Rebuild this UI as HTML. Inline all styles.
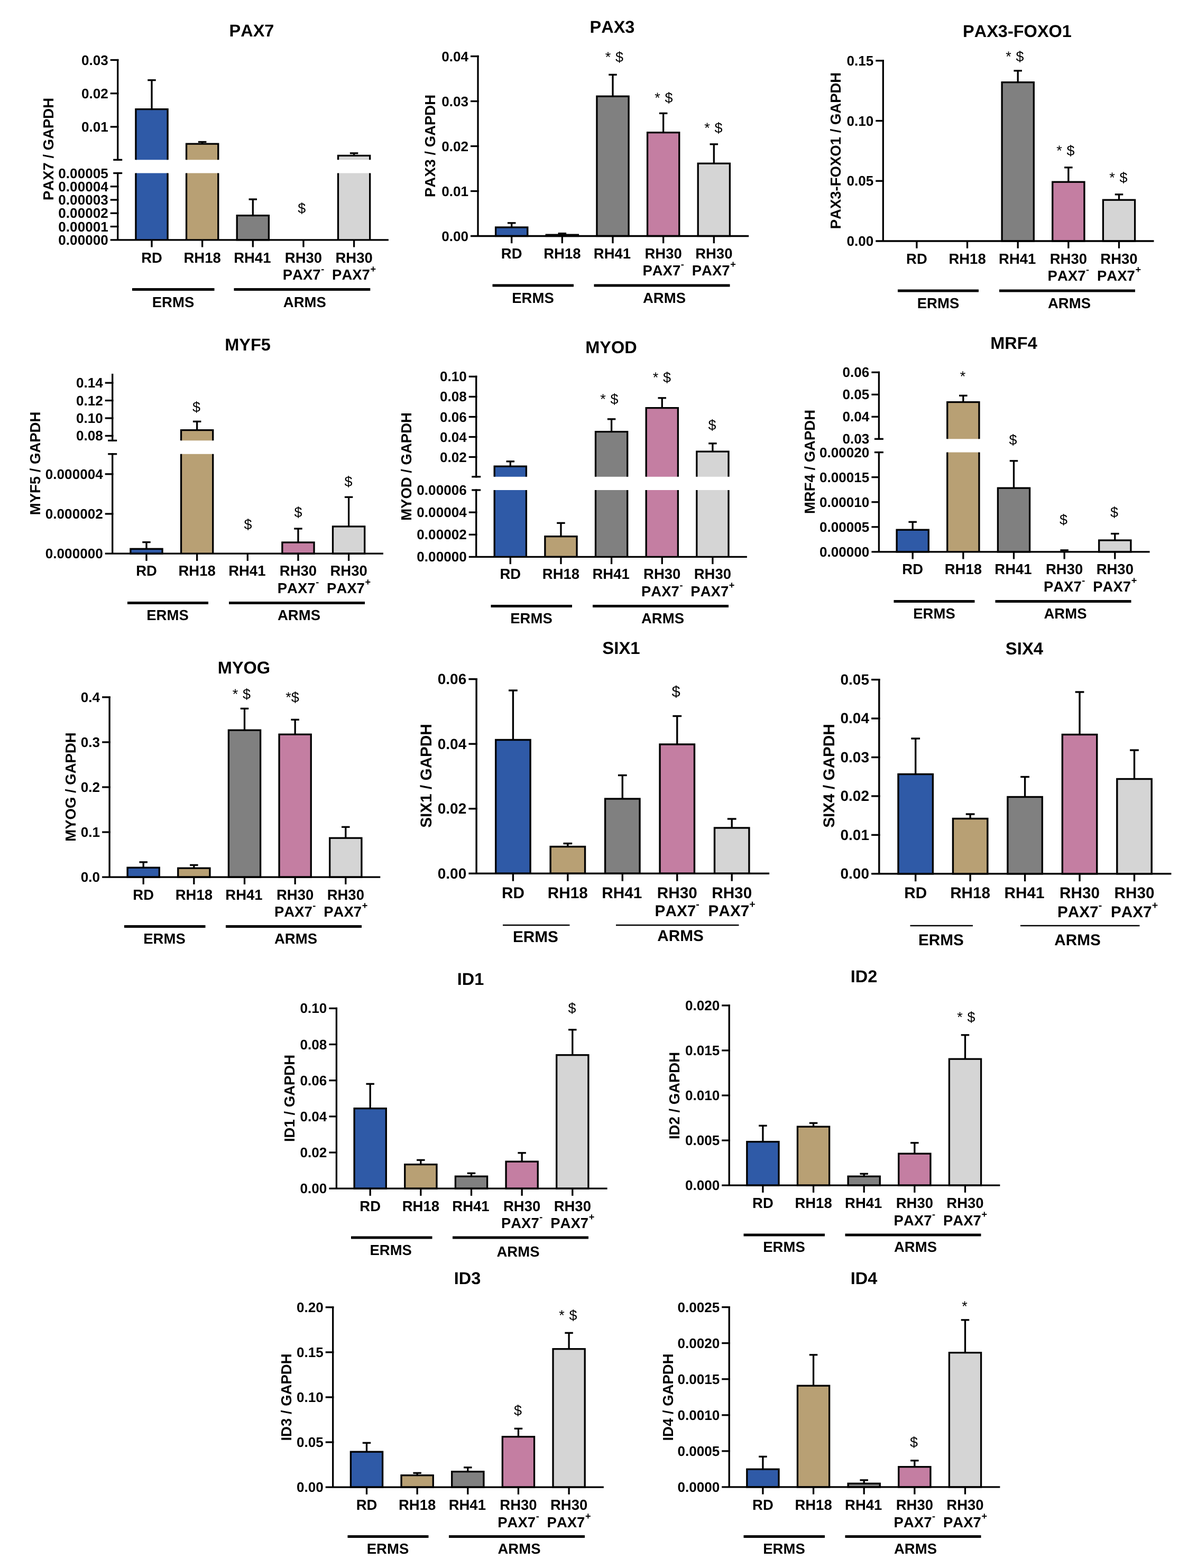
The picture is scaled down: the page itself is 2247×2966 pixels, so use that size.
<!DOCTYPE html>
<html lang="en">
<head>
<meta charset="utf-8">
<title>Gene expression in RMS cell lines</title>
<style>
html,body{margin:0;padding:0;background:#fff;}
body{width:2247px;height:2966px;overflow:hidden;}
svg{display:block;font-family:"Liberation Sans", Arial, Helvetica, sans-serif;fill:#000;font-kerning:none;text-rendering:geometricPrecision;}
svg text{fill:#000;}
</style>
</head>
<body>
<svg width="2247" height="2966" viewBox="0 0 2247 2966">
<rect x="0" y="0" width="2247" height="2966" fill="#fff"/>
<g>
<line x1="287" y1="151.6" x2="287" y2="206.65" stroke="#000" stroke-width="3.3" stroke-linecap="butt"/>
<line x1="279.25" y1="151.6" x2="294.75" y2="151.6" stroke="#000" stroke-width="3.3" stroke-linecap="butt"/>
<rect x="256.9" y="206.65" width="60.2" height="95.65" fill="#2f5aa7"/>
<path d="M256.9 302.3V206.65H317.1V302.3" fill="none" stroke="#000" stroke-width="3.3"/>
<rect x="256.9" y="327.5" width="60.2" height="126.3" fill="#2f5aa7"/>
<line x1="256.9" y1="327.5" x2="256.9" y2="453.8" stroke="#000" stroke-width="3.3" stroke-linecap="butt"/>
<line x1="317.1" y1="327.5" x2="317.1" y2="453.8" stroke="#000" stroke-width="3.3" stroke-linecap="butt"/>
<line x1="382.65" y1="268.5" x2="382.65" y2="272.15" stroke="#000" stroke-width="3.3" stroke-linecap="butt"/>
<line x1="374.9" y1="268.5" x2="390.4" y2="268.5" stroke="#000" stroke-width="3.3" stroke-linecap="butt"/>
<rect x="352.55" y="272.15" width="60.2" height="30.15" fill="#b8a074"/>
<path d="M352.55 302.3V272.15H412.75V302.3" fill="none" stroke="#000" stroke-width="3.3"/>
<rect x="352.55" y="327.5" width="60.2" height="126.3" fill="#b8a074"/>
<line x1="352.55" y1="327.5" x2="352.55" y2="453.8" stroke="#000" stroke-width="3.3" stroke-linecap="butt"/>
<line x1="412.75" y1="327.5" x2="412.75" y2="453.8" stroke="#000" stroke-width="3.3" stroke-linecap="butt"/>
<line x1="478.3" y1="377" x2="478.3" y2="407.65" stroke="#000" stroke-width="3.3" stroke-linecap="butt"/>
<line x1="470.55" y1="377" x2="486.05" y2="377" stroke="#000" stroke-width="3.3" stroke-linecap="butt"/>
<rect x="448.2" y="407.65" width="60.2" height="46.15" fill="#808080" stroke="#000" stroke-width="3.3"/>
<line x1="669.6" y1="289.8" x2="669.6" y2="294.45" stroke="#000" stroke-width="3.3" stroke-linecap="butt"/>
<line x1="661.85" y1="289.8" x2="677.35" y2="289.8" stroke="#000" stroke-width="3.3" stroke-linecap="butt"/>
<rect x="639.5" y="294.45" width="60.2" height="7.85" fill="#d5d5d5"/>
<path d="M639.5 302.3V294.45H699.7V302.3" fill="none" stroke="#000" stroke-width="3.3"/>
<rect x="639.5" y="327.5" width="60.2" height="126.3" fill="#d5d5d5"/>
<line x1="639.5" y1="327.5" x2="639.5" y2="453.8" stroke="#000" stroke-width="3.3" stroke-linecap="butt"/>
<line x1="699.7" y1="327.5" x2="699.7" y2="453.8" stroke="#000" stroke-width="3.3" stroke-linecap="butt"/>
<line x1="208.7" y1="453.8" x2="734.9" y2="453.8" stroke="#000" stroke-width="3.3" stroke-linecap="butt"/>
<line x1="222.7" y1="111.85" x2="222.7" y2="303.95" stroke="#000" stroke-width="3.3" stroke-linecap="butt"/>
<line x1="222.7" y1="325.85" x2="222.7" y2="453.8" stroke="#000" stroke-width="3.3" stroke-linecap="butt"/>
<line x1="214.2" y1="302.3" x2="231.2" y2="302.3" stroke="#000" stroke-width="3.3" stroke-linecap="butt"/>
<line x1="214.2" y1="327.5" x2="231.2" y2="327.5" stroke="#000" stroke-width="3.3" stroke-linecap="butt"/>
<line x1="208.7" y1="113.5" x2="224.35" y2="113.5" stroke="#000" stroke-width="3.3" stroke-linecap="butt"/>
<text x="204.7" y="122.54" font-size="26.1" font-weight="bold" text-anchor="end">0.03</text>
<line x1="208.7" y1="176.7" x2="224.35" y2="176.7" stroke="#000" stroke-width="3.3" stroke-linecap="butt"/>
<text x="204.7" y="185.74" font-size="26.1" font-weight="bold" text-anchor="end">0.02</text>
<line x1="208.7" y1="239.9" x2="224.35" y2="239.9" stroke="#000" stroke-width="3.3" stroke-linecap="butt"/>
<text x="204.7" y="248.94" font-size="26.1" font-weight="bold" text-anchor="end">0.01</text>
<text x="204.7" y="336.54" font-size="26.1" font-weight="bold" text-anchor="end">0.00005</text>
<line x1="208.7" y1="352.76" x2="224.35" y2="352.76" stroke="#000" stroke-width="3.3" stroke-linecap="butt"/>
<text x="204.7" y="361.8" font-size="26.1" font-weight="bold" text-anchor="end">0.00004</text>
<line x1="208.7" y1="378.02" x2="224.35" y2="378.02" stroke="#000" stroke-width="3.3" stroke-linecap="butt"/>
<text x="204.7" y="387.06" font-size="26.1" font-weight="bold" text-anchor="end">0.00003</text>
<line x1="208.7" y1="403.28" x2="224.35" y2="403.28" stroke="#000" stroke-width="3.3" stroke-linecap="butt"/>
<text x="204.7" y="412.32" font-size="26.1" font-weight="bold" text-anchor="end">0.00002</text>
<line x1="208.7" y1="428.54" x2="224.35" y2="428.54" stroke="#000" stroke-width="3.3" stroke-linecap="butt"/>
<text x="204.7" y="437.58" font-size="26.1" font-weight="bold" text-anchor="end">0.00001</text>
<text x="204.7" y="462.84" font-size="26.1" font-weight="bold" text-anchor="end">0.00000</text>
<line x1="287" y1="453.8" x2="287" y2="467.5" stroke="#000" stroke-width="3.3" stroke-linecap="butt"/>
<text x="287" y="497" font-size="27.5" font-weight="bold" text-anchor="middle">RD</text>
<line x1="382.65" y1="453.8" x2="382.65" y2="467.5" stroke="#000" stroke-width="3.3" stroke-linecap="butt"/>
<text x="382.65" y="497" font-size="27.5" font-weight="bold" text-anchor="middle">RH18</text>
<line x1="478.3" y1="453.8" x2="478.3" y2="467.5" stroke="#000" stroke-width="3.3" stroke-linecap="butt"/>
<text x="477.3" y="497" font-size="27.5" font-weight="bold" text-anchor="middle">RH41</text>
<line x1="573.95" y1="453.8" x2="573.95" y2="467.5" stroke="#000" stroke-width="3.3" stroke-linecap="butt"/>
<text x="573.95" y="497" font-size="27.5" font-weight="bold" text-anchor="middle">RH30</text>
<text x="573.95" y="529.4" font-size="27.5" font-weight="bold" text-anchor="middle">PAX7<tspan font-size="18.15" dy="-14.71" dx="0.6">-</tspan></text>
<line x1="669.6" y1="453.8" x2="669.6" y2="467.5" stroke="#000" stroke-width="3.3" stroke-linecap="butt"/>
<text x="669.6" y="497" font-size="27.5" font-weight="bold" text-anchor="middle">RH30</text>
<text x="669.6" y="529.4" font-size="27.5" font-weight="bold" text-anchor="middle">PAX7<tspan font-size="18.15" dy="-14.71" dx="0.6">+</tspan></text>
<line x1="250" y1="547.5" x2="405.5" y2="547.5" stroke="#000" stroke-width="4.8" stroke-linecap="butt"/>
<line x1="442.5" y1="547.5" x2="700.3" y2="547.5" stroke="#000" stroke-width="4.8" stroke-linecap="butt"/>
<text x="327.5" y="580.5" font-size="27.5" font-weight="bold" text-anchor="middle">ERMS</text>
<text x="576.3" y="580.5" font-size="27.5" font-weight="bold" text-anchor="middle">ARMS</text>
<text x="476" y="69" font-size="32.5" font-weight="bold" text-anchor="middle">PAX7</text>
<text transform="translate(101.34 282) rotate(-90)" font-size="27.5" font-weight="bold" text-anchor="middle">PAX7 / GAPDH</text>
<text x="570.7" y="403.45" font-size="27" font-weight="normal" text-anchor="middle">$</text>
</g>
<g>
<line x1="967.7" y1="421.8" x2="967.7" y2="430" stroke="#000" stroke-width="3.3" stroke-linecap="butt"/>
<line x1="959.95" y1="421.8" x2="975.45" y2="421.8" stroke="#000" stroke-width="3.3" stroke-linecap="butt"/>
<rect x="937.6" y="430" width="60.2" height="16.5" fill="#2f5aa7" stroke="#000" stroke-width="3.3"/>
<line x1="1063.35" y1="441.6" x2="1063.35" y2="444.2" stroke="#000" stroke-width="3.3" stroke-linecap="butt"/>
<line x1="1055.6" y1="441.6" x2="1071.1" y2="441.6" stroke="#000" stroke-width="3.3" stroke-linecap="butt"/>
<rect x="1033.25" y="444.2" width="60.2" height="2.3" fill="#b8a074" stroke="#000" stroke-width="3.3"/>
<line x1="1159" y1="141.3" x2="1159" y2="182.2" stroke="#000" stroke-width="3.3" stroke-linecap="butt"/>
<line x1="1151.25" y1="141.3" x2="1166.75" y2="141.3" stroke="#000" stroke-width="3.3" stroke-linecap="butt"/>
<rect x="1128.9" y="182.2" width="60.2" height="264.3" fill="#808080" stroke="#000" stroke-width="3.3"/>
<line x1="1254.65" y1="214.3" x2="1254.65" y2="250.7" stroke="#000" stroke-width="3.3" stroke-linecap="butt"/>
<line x1="1246.9" y1="214.3" x2="1262.4" y2="214.3" stroke="#000" stroke-width="3.3" stroke-linecap="butt"/>
<rect x="1224.55" y="250.7" width="60.2" height="195.8" fill="#c47ea2" stroke="#000" stroke-width="3.3"/>
<line x1="1350.3" y1="272.8" x2="1350.3" y2="309.2" stroke="#000" stroke-width="3.3" stroke-linecap="butt"/>
<line x1="1342.55" y1="272.8" x2="1358.05" y2="272.8" stroke="#000" stroke-width="3.3" stroke-linecap="butt"/>
<rect x="1320.2" y="309.2" width="60.2" height="137.3" fill="#d5d5d5" stroke="#000" stroke-width="3.3"/>
<line x1="890" y1="446.5" x2="1416.2" y2="446.5" stroke="#000" stroke-width="3.3" stroke-linecap="butt"/>
<line x1="904" y1="104.85" x2="904" y2="446.5" stroke="#000" stroke-width="3.3" stroke-linecap="butt"/>
<line x1="890" y1="106.5" x2="905.65" y2="106.5" stroke="#000" stroke-width="3.3" stroke-linecap="butt"/>
<text x="886" y="115.54" font-size="26.1" font-weight="bold" text-anchor="end">0.04</text>
<line x1="890" y1="191.5" x2="905.65" y2="191.5" stroke="#000" stroke-width="3.3" stroke-linecap="butt"/>
<text x="886" y="200.54" font-size="26.1" font-weight="bold" text-anchor="end">0.03</text>
<line x1="890" y1="276.5" x2="905.65" y2="276.5" stroke="#000" stroke-width="3.3" stroke-linecap="butt"/>
<text x="886" y="285.54" font-size="26.1" font-weight="bold" text-anchor="end">0.02</text>
<line x1="890" y1="361.5" x2="905.65" y2="361.5" stroke="#000" stroke-width="3.3" stroke-linecap="butt"/>
<text x="886" y="370.54" font-size="26.1" font-weight="bold" text-anchor="end">0.01</text>
<text x="886" y="455.54" font-size="26.1" font-weight="bold" text-anchor="end">0.00</text>
<line x1="967.7" y1="446.5" x2="967.7" y2="460.2" stroke="#000" stroke-width="3.3" stroke-linecap="butt"/>
<text x="967.7" y="489" font-size="27.5" font-weight="bold" text-anchor="middle">RD</text>
<line x1="1063.35" y1="446.5" x2="1063.35" y2="460.2" stroke="#000" stroke-width="3.3" stroke-linecap="butt"/>
<text x="1063.35" y="489" font-size="27.5" font-weight="bold" text-anchor="middle">RH18</text>
<line x1="1159" y1="446.5" x2="1159" y2="460.2" stroke="#000" stroke-width="3.3" stroke-linecap="butt"/>
<text x="1158" y="489" font-size="27.5" font-weight="bold" text-anchor="middle">RH41</text>
<line x1="1254.65" y1="446.5" x2="1254.65" y2="460.2" stroke="#000" stroke-width="3.3" stroke-linecap="butt"/>
<text x="1254.65" y="489" font-size="27.5" font-weight="bold" text-anchor="middle">RH30</text>
<text x="1254.65" y="521" font-size="27.5" font-weight="bold" text-anchor="middle">PAX7<tspan font-size="18.15" dy="-14.71" dx="0.6">-</tspan></text>
<line x1="1350.3" y1="446.5" x2="1350.3" y2="460.2" stroke="#000" stroke-width="3.3" stroke-linecap="butt"/>
<text x="1350.3" y="489" font-size="27.5" font-weight="bold" text-anchor="middle">RH30</text>
<text x="1350.3" y="521" font-size="27.5" font-weight="bold" text-anchor="middle">PAX7<tspan font-size="18.15" dy="-14.71" dx="0.6">+</tspan></text>
<line x1="931.5" y1="540" x2="1085" y2="540" stroke="#000" stroke-width="4.8" stroke-linecap="butt"/>
<line x1="1123.5" y1="540" x2="1380.5" y2="540" stroke="#000" stroke-width="4.8" stroke-linecap="butt"/>
<text x="1008" y="572.5" font-size="27.5" font-weight="bold" text-anchor="middle">ERMS</text>
<text x="1256.5" y="572.5" font-size="27.5" font-weight="bold" text-anchor="middle">ARMS</text>
<text x="1158" y="62" font-size="32.5" font-weight="bold" text-anchor="middle">PAX3</text>
<text transform="translate(823.35 276) rotate(-90)" font-size="27.5" font-weight="bold" text-anchor="middle">PAX3 / GAPDH</text>
<text x="1161.9" y="116.95" font-size="27" font-weight="normal" text-anchor="middle" word-spacing="1.2">* $</text>
<text x="1255.4" y="194.45" font-size="27" font-weight="normal" text-anchor="middle" word-spacing="1.2">* $</text>
<text x="1349.4" y="251.45" font-size="27" font-weight="normal" text-anchor="middle" word-spacing="1.2">* $</text>
</g>
<g>
<line x1="1925.2" y1="133.8" x2="1925.2" y2="155.7" stroke="#000" stroke-width="3.3" stroke-linecap="butt"/>
<line x1="1917.45" y1="133.8" x2="1932.95" y2="133.8" stroke="#000" stroke-width="3.3" stroke-linecap="butt"/>
<rect x="1895.1" y="155.7" width="60.2" height="300.3" fill="#808080" stroke="#000" stroke-width="3.3"/>
<line x1="2020.85" y1="316.8" x2="2020.85" y2="344.2" stroke="#000" stroke-width="3.3" stroke-linecap="butt"/>
<line x1="2013.1" y1="316.8" x2="2028.6" y2="316.8" stroke="#000" stroke-width="3.3" stroke-linecap="butt"/>
<rect x="1990.75" y="344.2" width="60.2" height="111.8" fill="#c47ea2" stroke="#000" stroke-width="3.3"/>
<line x1="2116.5" y1="367.8" x2="2116.5" y2="378.2" stroke="#000" stroke-width="3.3" stroke-linecap="butt"/>
<line x1="2108.75" y1="367.8" x2="2124.25" y2="367.8" stroke="#000" stroke-width="3.3" stroke-linecap="butt"/>
<rect x="2086.4" y="378.2" width="60.2" height="77.8" fill="#d5d5d5" stroke="#000" stroke-width="3.3"/>
<line x1="1656.3" y1="456" x2="2182.5" y2="456" stroke="#000" stroke-width="3.3" stroke-linecap="butt"/>
<line x1="1670.3" y1="113.15" x2="1670.3" y2="456" stroke="#000" stroke-width="3.3" stroke-linecap="butt"/>
<line x1="1656.3" y1="114.8" x2="1671.95" y2="114.8" stroke="#000" stroke-width="3.3" stroke-linecap="butt"/>
<text x="1652.3" y="123.84" font-size="26.1" font-weight="bold" text-anchor="end">0.15</text>
<line x1="1656.3" y1="228.53" x2="1671.95" y2="228.53" stroke="#000" stroke-width="3.3" stroke-linecap="butt"/>
<text x="1652.3" y="237.58" font-size="26.1" font-weight="bold" text-anchor="end">0.10</text>
<line x1="1656.3" y1="342.27" x2="1671.95" y2="342.27" stroke="#000" stroke-width="3.3" stroke-linecap="butt"/>
<text x="1652.3" y="351.31" font-size="26.1" font-weight="bold" text-anchor="end">0.05</text>
<text x="1652.3" y="465.04" font-size="26.1" font-weight="bold" text-anchor="end">0.00</text>
<line x1="1733.9" y1="456" x2="1733.9" y2="469.7" stroke="#000" stroke-width="3.3" stroke-linecap="butt"/>
<text x="1733.9" y="498.5" font-size="27.5" font-weight="bold" text-anchor="middle">RD</text>
<line x1="1829.55" y1="456" x2="1829.55" y2="469.7" stroke="#000" stroke-width="3.3" stroke-linecap="butt"/>
<text x="1829.55" y="498.5" font-size="27.5" font-weight="bold" text-anchor="middle">RH18</text>
<line x1="1925.2" y1="456" x2="1925.2" y2="469.7" stroke="#000" stroke-width="3.3" stroke-linecap="butt"/>
<text x="1924.2" y="498.5" font-size="27.5" font-weight="bold" text-anchor="middle">RH41</text>
<line x1="2020.85" y1="456" x2="2020.85" y2="469.7" stroke="#000" stroke-width="3.3" stroke-linecap="butt"/>
<text x="2020.85" y="498.5" font-size="27.5" font-weight="bold" text-anchor="middle">RH30</text>
<text x="2020.85" y="531" font-size="27.5" font-weight="bold" text-anchor="middle">PAX7<tspan font-size="18.15" dy="-14.71" dx="0.6">-</tspan></text>
<line x1="2116.5" y1="456" x2="2116.5" y2="469.7" stroke="#000" stroke-width="3.3" stroke-linecap="butt"/>
<text x="2116.5" y="498.5" font-size="27.5" font-weight="bold" text-anchor="middle">RH30</text>
<text x="2116.5" y="531" font-size="27.5" font-weight="bold" text-anchor="middle">PAX7<tspan font-size="18.15" dy="-14.71" dx="0.6">+</tspan></text>
<line x1="1698" y1="550" x2="1851" y2="550" stroke="#000" stroke-width="4.8" stroke-linecap="butt"/>
<line x1="1890" y1="550" x2="2147" y2="550" stroke="#000" stroke-width="4.8" stroke-linecap="butt"/>
<text x="1774.5" y="582.5" font-size="27.5" font-weight="bold" text-anchor="middle">ERMS</text>
<text x="2022.5" y="582.5" font-size="27.5" font-weight="bold" text-anchor="middle">ARMS</text>
<text x="1924" y="70" font-size="32.5" font-weight="bold" text-anchor="middle">PAX3-FOXO1</text>
<text transform="translate(1590.35 285) rotate(-90)" font-size="27.5" font-weight="bold" text-anchor="middle">PAX3-FOXO1 / GAPDH</text>
<text x="1919.4" y="116.45" font-size="27" font-weight="normal" text-anchor="middle" word-spacing="1.2">* $</text>
<text x="2015.4" y="294.45" font-size="27" font-weight="normal" text-anchor="middle" word-spacing="1.2">* $</text>
<text x="2115.4" y="345.45" font-size="27" font-weight="normal" text-anchor="middle" word-spacing="1.2">* $</text>
</g>
<g>
<line x1="277" y1="1025.6" x2="277" y2="1038.3" stroke="#000" stroke-width="3.3" stroke-linecap="butt"/>
<line x1="269.25" y1="1025.6" x2="284.75" y2="1025.6" stroke="#000" stroke-width="3.3" stroke-linecap="butt"/>
<rect x="246.9" y="1038.3" width="60.2" height="8.9" fill="#2f5aa7" stroke="#000" stroke-width="3.3"/>
<line x1="372.65" y1="797.3" x2="372.65" y2="813.7" stroke="#000" stroke-width="3.3" stroke-linecap="butt"/>
<line x1="364.9" y1="797.3" x2="380.4" y2="797.3" stroke="#000" stroke-width="3.3" stroke-linecap="butt"/>
<rect x="342.55" y="813.7" width="60.2" height="19.6" fill="#b8a074"/>
<path d="M342.55 833.3V813.7H402.75V833.3" fill="none" stroke="#000" stroke-width="3.3"/>
<rect x="342.55" y="858.8" width="60.2" height="188.4" fill="#b8a074"/>
<line x1="342.55" y1="858.8" x2="342.55" y2="1047.2" stroke="#000" stroke-width="3.3" stroke-linecap="butt"/>
<line x1="402.75" y1="858.8" x2="402.75" y2="1047.2" stroke="#000" stroke-width="3.3" stroke-linecap="butt"/>
<line x1="563.95" y1="1000" x2="563.95" y2="1026" stroke="#000" stroke-width="3.3" stroke-linecap="butt"/>
<line x1="556.2" y1="1000" x2="571.7" y2="1000" stroke="#000" stroke-width="3.3" stroke-linecap="butt"/>
<rect x="533.85" y="1026" width="60.2" height="21.2" fill="#c47ea2" stroke="#000" stroke-width="3.3"/>
<line x1="659.6" y1="940.3" x2="659.6" y2="995.9" stroke="#000" stroke-width="3.3" stroke-linecap="butt"/>
<line x1="651.85" y1="940.3" x2="667.35" y2="940.3" stroke="#000" stroke-width="3.3" stroke-linecap="butt"/>
<rect x="629.5" y="995.9" width="60.2" height="51.3" fill="#d5d5d5" stroke="#000" stroke-width="3.3"/>
<line x1="198.7" y1="1047.2" x2="724.9" y2="1047.2" stroke="#000" stroke-width="3.3" stroke-linecap="butt"/>
<line x1="212.7" y1="706.9" x2="212.7" y2="834.95" stroke="#000" stroke-width="3.3" stroke-linecap="butt"/>
<line x1="212.7" y1="857.15" x2="212.7" y2="1047.2" stroke="#000" stroke-width="3.3" stroke-linecap="butt"/>
<line x1="204.2" y1="833.3" x2="221.2" y2="833.3" stroke="#000" stroke-width="3.3" stroke-linecap="butt"/>
<line x1="204.2" y1="858.8" x2="221.2" y2="858.8" stroke="#000" stroke-width="3.3" stroke-linecap="butt"/>
<line x1="198.7" y1="724.2" x2="214.35" y2="724.2" stroke="#000" stroke-width="3.3" stroke-linecap="butt"/>
<text x="194.7" y="733.24" font-size="26.1" font-weight="bold" text-anchor="end">0.14</text>
<line x1="198.7" y1="757.6" x2="214.35" y2="757.6" stroke="#000" stroke-width="3.3" stroke-linecap="butt"/>
<text x="194.7" y="766.64" font-size="26.1" font-weight="bold" text-anchor="end">0.12</text>
<line x1="198.7" y1="791" x2="214.35" y2="791" stroke="#000" stroke-width="3.3" stroke-linecap="butt"/>
<text x="194.7" y="800.04" font-size="26.1" font-weight="bold" text-anchor="end">0.10</text>
<line x1="198.7" y1="824.4" x2="214.35" y2="824.4" stroke="#000" stroke-width="3.3" stroke-linecap="butt"/>
<text x="194.7" y="833.44" font-size="26.1" font-weight="bold" text-anchor="end">0.08</text>
<line x1="198.7" y1="896.8" x2="214.35" y2="896.8" stroke="#000" stroke-width="3.3" stroke-linecap="butt"/>
<text x="194.7" y="905.84" font-size="26.1" font-weight="bold" text-anchor="end">0.000004</text>
<line x1="198.7" y1="972" x2="214.35" y2="972" stroke="#000" stroke-width="3.3" stroke-linecap="butt"/>
<text x="194.7" y="981.04" font-size="26.1" font-weight="bold" text-anchor="end">0.000002</text>
<text x="194.7" y="1056.24" font-size="26.1" font-weight="bold" text-anchor="end">0.000000</text>
<line x1="277" y1="1047.2" x2="277" y2="1060.9" stroke="#000" stroke-width="3.3" stroke-linecap="butt"/>
<text x="277" y="1089" font-size="27.5" font-weight="bold" text-anchor="middle">RD</text>
<line x1="372.65" y1="1047.2" x2="372.65" y2="1060.9" stroke="#000" stroke-width="3.3" stroke-linecap="butt"/>
<text x="372.65" y="1089" font-size="27.5" font-weight="bold" text-anchor="middle">RH18</text>
<line x1="468.3" y1="1047.2" x2="468.3" y2="1060.9" stroke="#000" stroke-width="3.3" stroke-linecap="butt"/>
<text x="467.3" y="1089" font-size="27.5" font-weight="bold" text-anchor="middle">RH41</text>
<line x1="563.95" y1="1047.2" x2="563.95" y2="1060.9" stroke="#000" stroke-width="3.3" stroke-linecap="butt"/>
<text x="563.95" y="1089" font-size="27.5" font-weight="bold" text-anchor="middle">RH30</text>
<text x="563.95" y="1121.5" font-size="27.5" font-weight="bold" text-anchor="middle">PAX7<tspan font-size="18.15" dy="-14.71" dx="0.6">-</tspan></text>
<line x1="659.6" y1="1047.2" x2="659.6" y2="1060.9" stroke="#000" stroke-width="3.3" stroke-linecap="butt"/>
<text x="659.6" y="1089" font-size="27.5" font-weight="bold" text-anchor="middle">RH30</text>
<text x="659.6" y="1121.5" font-size="27.5" font-weight="bold" text-anchor="middle">PAX7<tspan font-size="18.15" dy="-14.71" dx="0.6">+</tspan></text>
<line x1="241" y1="1140.5" x2="394" y2="1140.5" stroke="#000" stroke-width="4.8" stroke-linecap="butt"/>
<line x1="433" y1="1140.5" x2="690" y2="1140.5" stroke="#000" stroke-width="4.8" stroke-linecap="butt"/>
<text x="317" y="1172.5" font-size="27.5" font-weight="bold" text-anchor="middle">ERMS</text>
<text x="565.5" y="1172.5" font-size="27.5" font-weight="bold" text-anchor="middle">ARMS</text>
<text x="468.5" y="663" font-size="32.5" font-weight="bold" text-anchor="middle">MYF5</text>
<text transform="translate(76.34 876.5) rotate(-90)" font-size="27.5" font-weight="bold" text-anchor="middle">MYF5 / GAPDH</text>
<text x="371.5" y="779.45" font-size="27" font-weight="normal" text-anchor="middle">$</text>
<text x="469" y="1001.45" font-size="27" font-weight="normal" text-anchor="middle">$</text>
<text x="564" y="978.45" font-size="27" font-weight="normal" text-anchor="middle">$</text>
<text x="659" y="920.45" font-size="27" font-weight="normal" text-anchor="middle">$</text>
</g>
<g>
<line x1="965.3" y1="872.8" x2="965.3" y2="882.2" stroke="#000" stroke-width="3.3" stroke-linecap="butt"/>
<line x1="957.55" y1="872.8" x2="973.05" y2="872.8" stroke="#000" stroke-width="3.3" stroke-linecap="butt"/>
<rect x="935.2" y="882.2" width="60.2" height="19.6" fill="#2f5aa7"/>
<path d="M935.2 901.8V882.2H995.4V901.8" fill="none" stroke="#000" stroke-width="3.3"/>
<rect x="935.2" y="927" width="60.2" height="126.4" fill="#2f5aa7"/>
<line x1="935.2" y1="927" x2="935.2" y2="1053.4" stroke="#000" stroke-width="3.3" stroke-linecap="butt"/>
<line x1="995.4" y1="927" x2="995.4" y2="1053.4" stroke="#000" stroke-width="3.3" stroke-linecap="butt"/>
<line x1="1060.95" y1="989.3" x2="1060.95" y2="1014.7" stroke="#000" stroke-width="3.3" stroke-linecap="butt"/>
<line x1="1053.2" y1="989.3" x2="1068.7" y2="989.3" stroke="#000" stroke-width="3.3" stroke-linecap="butt"/>
<rect x="1030.85" y="1014.7" width="60.2" height="38.7" fill="#b8a074" stroke="#000" stroke-width="3.3"/>
<line x1="1156.6" y1="792.8" x2="1156.6" y2="816.7" stroke="#000" stroke-width="3.3" stroke-linecap="butt"/>
<line x1="1148.85" y1="792.8" x2="1164.35" y2="792.8" stroke="#000" stroke-width="3.3" stroke-linecap="butt"/>
<rect x="1126.5" y="816.7" width="60.2" height="85.1" fill="#808080"/>
<path d="M1126.5 901.8V816.7H1186.7V901.8" fill="none" stroke="#000" stroke-width="3.3"/>
<rect x="1126.5" y="927" width="60.2" height="126.4" fill="#808080"/>
<line x1="1126.5" y1="927" x2="1126.5" y2="1053.4" stroke="#000" stroke-width="3.3" stroke-linecap="butt"/>
<line x1="1186.7" y1="927" x2="1186.7" y2="1053.4" stroke="#000" stroke-width="3.3" stroke-linecap="butt"/>
<line x1="1252.25" y1="752.8" x2="1252.25" y2="771.7" stroke="#000" stroke-width="3.3" stroke-linecap="butt"/>
<line x1="1244.5" y1="752.8" x2="1260" y2="752.8" stroke="#000" stroke-width="3.3" stroke-linecap="butt"/>
<rect x="1222.15" y="771.7" width="60.2" height="130.1" fill="#c47ea2"/>
<path d="M1222.15 901.8V771.7H1282.35V901.8" fill="none" stroke="#000" stroke-width="3.3"/>
<rect x="1222.15" y="927" width="60.2" height="126.4" fill="#c47ea2"/>
<line x1="1222.15" y1="927" x2="1222.15" y2="1053.4" stroke="#000" stroke-width="3.3" stroke-linecap="butt"/>
<line x1="1282.35" y1="927" x2="1282.35" y2="1053.4" stroke="#000" stroke-width="3.3" stroke-linecap="butt"/>
<line x1="1347.9" y1="838.8" x2="1347.9" y2="854.2" stroke="#000" stroke-width="3.3" stroke-linecap="butt"/>
<line x1="1340.15" y1="838.8" x2="1355.65" y2="838.8" stroke="#000" stroke-width="3.3" stroke-linecap="butt"/>
<rect x="1317.8" y="854.2" width="60.2" height="47.6" fill="#d5d5d5"/>
<path d="M1317.8 901.8V854.2H1378V901.8" fill="none" stroke="#000" stroke-width="3.3"/>
<rect x="1317.8" y="927" width="60.2" height="126.4" fill="#d5d5d5"/>
<line x1="1317.8" y1="927" x2="1317.8" y2="1053.4" stroke="#000" stroke-width="3.3" stroke-linecap="butt"/>
<line x1="1378" y1="927" x2="1378" y2="1053.4" stroke="#000" stroke-width="3.3" stroke-linecap="butt"/>
<line x1="886.7" y1="1053.4" x2="1412.9" y2="1053.4" stroke="#000" stroke-width="3.3" stroke-linecap="butt"/>
<line x1="900.7" y1="710.65" x2="900.7" y2="903.45" stroke="#000" stroke-width="3.3" stroke-linecap="butt"/>
<line x1="900.7" y1="925.35" x2="900.7" y2="1053.4" stroke="#000" stroke-width="3.3" stroke-linecap="butt"/>
<line x1="892.2" y1="901.8" x2="909.2" y2="901.8" stroke="#000" stroke-width="3.3" stroke-linecap="butt"/>
<line x1="892.2" y1="927" x2="909.2" y2="927" stroke="#000" stroke-width="3.3" stroke-linecap="butt"/>
<line x1="886.7" y1="712.3" x2="902.35" y2="712.3" stroke="#000" stroke-width="3.3" stroke-linecap="butt"/>
<text x="882.7" y="721.34" font-size="26.1" font-weight="bold" text-anchor="end">0.10</text>
<line x1="886.7" y1="750.4" x2="902.35" y2="750.4" stroke="#000" stroke-width="3.3" stroke-linecap="butt"/>
<text x="882.7" y="759.44" font-size="26.1" font-weight="bold" text-anchor="end">0.08</text>
<line x1="886.7" y1="788.5" x2="902.35" y2="788.5" stroke="#000" stroke-width="3.3" stroke-linecap="butt"/>
<text x="882.7" y="797.54" font-size="26.1" font-weight="bold" text-anchor="end">0.06</text>
<line x1="886.7" y1="826.5" x2="902.35" y2="826.5" stroke="#000" stroke-width="3.3" stroke-linecap="butt"/>
<text x="882.7" y="835.54" font-size="26.1" font-weight="bold" text-anchor="end">0.04</text>
<line x1="886.7" y1="864.5" x2="902.35" y2="864.5" stroke="#000" stroke-width="3.3" stroke-linecap="butt"/>
<text x="882.7" y="873.54" font-size="26.1" font-weight="bold" text-anchor="end">0.02</text>
<text x="882.7" y="936.04" font-size="26.1" font-weight="bold" text-anchor="end">0.00006</text>
<line x1="886.7" y1="969.13" x2="902.35" y2="969.13" stroke="#000" stroke-width="3.3" stroke-linecap="butt"/>
<text x="882.7" y="978.18" font-size="26.1" font-weight="bold" text-anchor="end">0.00004</text>
<line x1="886.7" y1="1011.27" x2="902.35" y2="1011.27" stroke="#000" stroke-width="3.3" stroke-linecap="butt"/>
<text x="882.7" y="1020.31" font-size="26.1" font-weight="bold" text-anchor="end">0.00002</text>
<text x="882.7" y="1062.44" font-size="26.1" font-weight="bold" text-anchor="end">0.00000</text>
<line x1="965.3" y1="1053.4" x2="965.3" y2="1067.1" stroke="#000" stroke-width="3.3" stroke-linecap="butt"/>
<text x="965.3" y="1095" font-size="27.5" font-weight="bold" text-anchor="middle">RD</text>
<line x1="1060.95" y1="1053.4" x2="1060.95" y2="1067.1" stroke="#000" stroke-width="3.3" stroke-linecap="butt"/>
<text x="1060.95" y="1095" font-size="27.5" font-weight="bold" text-anchor="middle">RH18</text>
<line x1="1156.6" y1="1053.4" x2="1156.6" y2="1067.1" stroke="#000" stroke-width="3.3" stroke-linecap="butt"/>
<text x="1155.6" y="1095" font-size="27.5" font-weight="bold" text-anchor="middle">RH41</text>
<line x1="1252.25" y1="1053.4" x2="1252.25" y2="1067.1" stroke="#000" stroke-width="3.3" stroke-linecap="butt"/>
<text x="1252.25" y="1095" font-size="27.5" font-weight="bold" text-anchor="middle">RH30</text>
<text x="1252.25" y="1128" font-size="27.5" font-weight="bold" text-anchor="middle">PAX7<tspan font-size="18.15" dy="-14.71" dx="0.6">-</tspan></text>
<line x1="1347.9" y1="1053.4" x2="1347.9" y2="1067.1" stroke="#000" stroke-width="3.3" stroke-linecap="butt"/>
<text x="1347.9" y="1095" font-size="27.5" font-weight="bold" text-anchor="middle">RH30</text>
<text x="1347.9" y="1128" font-size="27.5" font-weight="bold" text-anchor="middle">PAX7<tspan font-size="18.15" dy="-14.71" dx="0.6">+</tspan></text>
<line x1="928.5" y1="1146.5" x2="1082" y2="1146.5" stroke="#000" stroke-width="4.8" stroke-linecap="butt"/>
<line x1="1121" y1="1146.5" x2="1378" y2="1146.5" stroke="#000" stroke-width="4.8" stroke-linecap="butt"/>
<text x="1005" y="1179" font-size="27.5" font-weight="bold" text-anchor="middle">ERMS</text>
<text x="1253.5" y="1179" font-size="27.5" font-weight="bold" text-anchor="middle">ARMS</text>
<text x="1156" y="668" font-size="32.5" font-weight="bold" text-anchor="middle">MYOD</text>
<text transform="translate(777.85 882.5) rotate(-90)" font-size="27.5" font-weight="bold" text-anchor="middle">MYOD / GAPDH</text>
<text x="1152.4" y="764.45" font-size="27" font-weight="normal" text-anchor="middle" word-spacing="1.2">* $</text>
<text x="1251.9" y="723.45" font-size="27" font-weight="normal" text-anchor="middle" word-spacing="1.2">* $</text>
<text x="1347" y="813.45" font-size="27" font-weight="normal" text-anchor="middle">$</text>
</g>
<g>
<line x1="1726.2" y1="987.3" x2="1726.2" y2="1002.2" stroke="#000" stroke-width="3.3" stroke-linecap="butt"/>
<line x1="1718.45" y1="987.3" x2="1733.95" y2="987.3" stroke="#000" stroke-width="3.3" stroke-linecap="butt"/>
<rect x="1696.1" y="1002.2" width="60.2" height="41.65" fill="#2f5aa7" stroke="#000" stroke-width="3.3"/>
<line x1="1821.85" y1="748.3" x2="1821.85" y2="760.7" stroke="#000" stroke-width="3.3" stroke-linecap="butt"/>
<line x1="1814.1" y1="748.3" x2="1829.6" y2="748.3" stroke="#000" stroke-width="3.3" stroke-linecap="butt"/>
<rect x="1791.75" y="760.7" width="60.2" height="69.6" fill="#b8a074"/>
<path d="M1791.75 830.3V760.7H1851.95V830.3" fill="none" stroke="#000" stroke-width="3.3"/>
<rect x="1791.75" y="855.6" width="60.2" height="188.25" fill="#b8a074"/>
<line x1="1791.75" y1="855.6" x2="1791.75" y2="1043.85" stroke="#000" stroke-width="3.3" stroke-linecap="butt"/>
<line x1="1851.95" y1="855.6" x2="1851.95" y2="1043.85" stroke="#000" stroke-width="3.3" stroke-linecap="butt"/>
<line x1="1917.5" y1="871.8" x2="1917.5" y2="923.2" stroke="#000" stroke-width="3.3" stroke-linecap="butt"/>
<line x1="1909.75" y1="871.8" x2="1925.25" y2="871.8" stroke="#000" stroke-width="3.3" stroke-linecap="butt"/>
<rect x="1887.4" y="923.2" width="60.2" height="120.65" fill="#808080" stroke="#000" stroke-width="3.3"/>
<line x1="2005.4" y1="1040.8" x2="2020.9" y2="1040.8" stroke="#000" stroke-width="3.3" stroke-linecap="butt"/>
<line x1="2108.8" y1="1009.5" x2="2108.8" y2="1022" stroke="#000" stroke-width="3.3" stroke-linecap="butt"/>
<line x1="2101.05" y1="1009.5" x2="2116.55" y2="1009.5" stroke="#000" stroke-width="3.3" stroke-linecap="butt"/>
<rect x="2078.7" y="1022" width="60.2" height="21.85" fill="#d5d5d5" stroke="#000" stroke-width="3.3"/>
<line x1="1648.4" y1="1043.85" x2="2174.6" y2="1043.85" stroke="#000" stroke-width="3.3" stroke-linecap="butt"/>
<line x1="1662.4" y1="702.65" x2="1662.4" y2="831.95" stroke="#000" stroke-width="3.3" stroke-linecap="butt"/>
<line x1="1662.4" y1="853.95" x2="1662.4" y2="1043.85" stroke="#000" stroke-width="3.3" stroke-linecap="butt"/>
<line x1="1653.9" y1="830.3" x2="1670.9" y2="830.3" stroke="#000" stroke-width="3.3" stroke-linecap="butt"/>
<line x1="1653.9" y1="855.6" x2="1670.9" y2="855.6" stroke="#000" stroke-width="3.3" stroke-linecap="butt"/>
<line x1="1648.4" y1="704.3" x2="1664.05" y2="704.3" stroke="#000" stroke-width="3.3" stroke-linecap="butt"/>
<text x="1644.4" y="713.34" font-size="26.1" font-weight="bold" text-anchor="end">0.06</text>
<line x1="1648.4" y1="746.3" x2="1664.05" y2="746.3" stroke="#000" stroke-width="3.3" stroke-linecap="butt"/>
<text x="1644.4" y="755.34" font-size="26.1" font-weight="bold" text-anchor="end">0.05</text>
<line x1="1648.4" y1="788.3" x2="1664.05" y2="788.3" stroke="#000" stroke-width="3.3" stroke-linecap="butt"/>
<text x="1644.4" y="797.34" font-size="26.1" font-weight="bold" text-anchor="end">0.04</text>
<text x="1644.4" y="839.34" font-size="26.1" font-weight="bold" text-anchor="end">0.03</text>
<text x="1644.4" y="864.64" font-size="26.1" font-weight="bold" text-anchor="end">0.00020</text>
<line x1="1648.4" y1="902.66" x2="1664.05" y2="902.66" stroke="#000" stroke-width="3.3" stroke-linecap="butt"/>
<text x="1644.4" y="911.71" font-size="26.1" font-weight="bold" text-anchor="end">0.00015</text>
<line x1="1648.4" y1="949.72" x2="1664.05" y2="949.72" stroke="#000" stroke-width="3.3" stroke-linecap="butt"/>
<text x="1644.4" y="958.77" font-size="26.1" font-weight="bold" text-anchor="end">0.00010</text>
<line x1="1648.4" y1="996.79" x2="1664.05" y2="996.79" stroke="#000" stroke-width="3.3" stroke-linecap="butt"/>
<text x="1644.4" y="1005.83" font-size="26.1" font-weight="bold" text-anchor="end">0.00005</text>
<text x="1644.4" y="1052.89" font-size="26.1" font-weight="bold" text-anchor="end">0.00000</text>
<line x1="1726.2" y1="1043.85" x2="1726.2" y2="1057.55" stroke="#000" stroke-width="3.3" stroke-linecap="butt"/>
<text x="1726.2" y="1086" font-size="27.5" font-weight="bold" text-anchor="middle">RD</text>
<line x1="1821.85" y1="1043.85" x2="1821.85" y2="1057.55" stroke="#000" stroke-width="3.3" stroke-linecap="butt"/>
<text x="1821.85" y="1086" font-size="27.5" font-weight="bold" text-anchor="middle">RH18</text>
<line x1="1917.5" y1="1043.85" x2="1917.5" y2="1057.55" stroke="#000" stroke-width="3.3" stroke-linecap="butt"/>
<text x="1916.5" y="1086" font-size="27.5" font-weight="bold" text-anchor="middle">RH41</text>
<line x1="2013.15" y1="1043.85" x2="2013.15" y2="1057.55" stroke="#000" stroke-width="3.3" stroke-linecap="butt"/>
<text x="2013.15" y="1086" font-size="27.5" font-weight="bold" text-anchor="middle">RH30</text>
<text x="2013.15" y="1118.5" font-size="27.5" font-weight="bold" text-anchor="middle">PAX7<tspan font-size="18.15" dy="-14.71" dx="0.6">-</tspan></text>
<line x1="2108.8" y1="1043.85" x2="2108.8" y2="1057.55" stroke="#000" stroke-width="3.3" stroke-linecap="butt"/>
<text x="2108.8" y="1086" font-size="27.5" font-weight="bold" text-anchor="middle">RH30</text>
<text x="2108.8" y="1118.5" font-size="27.5" font-weight="bold" text-anchor="middle">PAX7<tspan font-size="18.15" dy="-14.71" dx="0.6">+</tspan></text>
<line x1="1690.5" y1="1137.5" x2="1843.5" y2="1137.5" stroke="#000" stroke-width="4.8" stroke-linecap="butt"/>
<line x1="1882.5" y1="1137.5" x2="2139.5" y2="1137.5" stroke="#000" stroke-width="4.8" stroke-linecap="butt"/>
<text x="1767" y="1170" font-size="27.5" font-weight="bold" text-anchor="middle">ERMS</text>
<text x="2015" y="1170" font-size="27.5" font-weight="bold" text-anchor="middle">ARMS</text>
<text x="1917.5" y="660" font-size="32.5" font-weight="bold" text-anchor="middle">MRF4</text>
<text transform="translate(1541.35 873.5) rotate(-90)" font-size="27.5" font-weight="bold" text-anchor="middle">MRF4 / GAPDH</text>
<text x="1821" y="721.45" font-size="27" font-weight="normal" text-anchor="middle">*</text>
<text x="1916" y="840.95" font-size="27" font-weight="normal" text-anchor="middle">$</text>
<text x="2011.5" y="991.95" font-size="27" font-weight="normal" text-anchor="middle">$</text>
<text x="2107.5" y="977.95" font-size="27" font-weight="normal" text-anchor="middle">$</text>
</g>
<g>
<line x1="271.2" y1="1630.8" x2="271.2" y2="1641.2" stroke="#000" stroke-width="3.3" stroke-linecap="butt"/>
<line x1="263.45" y1="1630.8" x2="278.95" y2="1630.8" stroke="#000" stroke-width="3.3" stroke-linecap="butt"/>
<rect x="241.1" y="1641.2" width="60.2" height="17.9" fill="#2f5aa7" stroke="#000" stroke-width="3.3"/>
<line x1="366.85" y1="1636.3" x2="366.85" y2="1642.2" stroke="#000" stroke-width="3.3" stroke-linecap="butt"/>
<line x1="359.1" y1="1636.3" x2="374.6" y2="1636.3" stroke="#000" stroke-width="3.3" stroke-linecap="butt"/>
<rect x="336.75" y="1642.2" width="60.2" height="16.9" fill="#b8a074" stroke="#000" stroke-width="3.3"/>
<line x1="462.5" y1="1340.3" x2="462.5" y2="1381.2" stroke="#000" stroke-width="3.3" stroke-linecap="butt"/>
<line x1="454.75" y1="1340.3" x2="470.25" y2="1340.3" stroke="#000" stroke-width="3.3" stroke-linecap="butt"/>
<rect x="432.4" y="1381.2" width="60.2" height="277.9" fill="#808080" stroke="#000" stroke-width="3.3"/>
<line x1="558.15" y1="1361.3" x2="558.15" y2="1389.2" stroke="#000" stroke-width="3.3" stroke-linecap="butt"/>
<line x1="550.4" y1="1361.3" x2="565.9" y2="1361.3" stroke="#000" stroke-width="3.3" stroke-linecap="butt"/>
<rect x="528.05" y="1389.2" width="60.2" height="269.9" fill="#c47ea2" stroke="#000" stroke-width="3.3"/>
<line x1="653.8" y1="1564.3" x2="653.8" y2="1585.2" stroke="#000" stroke-width="3.3" stroke-linecap="butt"/>
<line x1="646.05" y1="1564.3" x2="661.55" y2="1564.3" stroke="#000" stroke-width="3.3" stroke-linecap="butt"/>
<rect x="623.7" y="1585.2" width="60.2" height="73.9" fill="#d5d5d5" stroke="#000" stroke-width="3.3"/>
<line x1="193.1" y1="1659.1" x2="719.3" y2="1659.1" stroke="#000" stroke-width="3.3" stroke-linecap="butt"/>
<line x1="207.1" y1="1317.15" x2="207.1" y2="1659.1" stroke="#000" stroke-width="3.3" stroke-linecap="butt"/>
<line x1="193.1" y1="1318.8" x2="208.75" y2="1318.8" stroke="#000" stroke-width="3.3" stroke-linecap="butt"/>
<text x="189.1" y="1327.84" font-size="26.1" font-weight="bold" text-anchor="end">0.4</text>
<line x1="193.1" y1="1403.88" x2="208.75" y2="1403.88" stroke="#000" stroke-width="3.3" stroke-linecap="butt"/>
<text x="189.1" y="1412.92" font-size="26.1" font-weight="bold" text-anchor="end">0.3</text>
<line x1="193.1" y1="1488.95" x2="208.75" y2="1488.95" stroke="#000" stroke-width="3.3" stroke-linecap="butt"/>
<text x="189.1" y="1497.99" font-size="26.1" font-weight="bold" text-anchor="end">0.2</text>
<line x1="193.1" y1="1574.02" x2="208.75" y2="1574.02" stroke="#000" stroke-width="3.3" stroke-linecap="butt"/>
<text x="189.1" y="1583.07" font-size="26.1" font-weight="bold" text-anchor="end">0.1</text>
<text x="189.1" y="1668.14" font-size="26.1" font-weight="bold" text-anchor="end">0.0</text>
<line x1="271.2" y1="1659.1" x2="271.2" y2="1672.8" stroke="#000" stroke-width="3.3" stroke-linecap="butt"/>
<text x="271.2" y="1701.5" font-size="27.5" font-weight="bold" text-anchor="middle">RD</text>
<line x1="366.85" y1="1659.1" x2="366.85" y2="1672.8" stroke="#000" stroke-width="3.3" stroke-linecap="butt"/>
<text x="366.85" y="1701.5" font-size="27.5" font-weight="bold" text-anchor="middle">RH18</text>
<line x1="462.5" y1="1659.1" x2="462.5" y2="1672.8" stroke="#000" stroke-width="3.3" stroke-linecap="butt"/>
<text x="461.5" y="1701.5" font-size="27.5" font-weight="bold" text-anchor="middle">RH41</text>
<line x1="558.15" y1="1659.1" x2="558.15" y2="1672.8" stroke="#000" stroke-width="3.3" stroke-linecap="butt"/>
<text x="558.15" y="1701.5" font-size="27.5" font-weight="bold" text-anchor="middle">RH30</text>
<text x="558.15" y="1734" font-size="27.5" font-weight="bold" text-anchor="middle">PAX7<tspan font-size="18.15" dy="-14.71" dx="0.6">-</tspan></text>
<line x1="653.8" y1="1659.1" x2="653.8" y2="1672.8" stroke="#000" stroke-width="3.3" stroke-linecap="butt"/>
<text x="653.8" y="1701.5" font-size="27.5" font-weight="bold" text-anchor="middle">RH30</text>
<text x="653.8" y="1734" font-size="27.5" font-weight="bold" text-anchor="middle">PAX7<tspan font-size="18.15" dy="-14.71" dx="0.6">+</tspan></text>
<line x1="235" y1="1752.5" x2="388.5" y2="1752.5" stroke="#000" stroke-width="4.8" stroke-linecap="butt"/>
<line x1="427" y1="1752.5" x2="684" y2="1752.5" stroke="#000" stroke-width="4.8" stroke-linecap="butt"/>
<text x="311" y="1785" font-size="27.5" font-weight="bold" text-anchor="middle">ERMS</text>
<text x="559.5" y="1785" font-size="27.5" font-weight="bold" text-anchor="middle">ARMS</text>
<text x="461.5" y="1274" font-size="32.5" font-weight="bold" text-anchor="middle">MYOG</text>
<text transform="translate(142.84 1488.5) rotate(-90)" font-size="27.5" font-weight="bold" text-anchor="middle">MYOG / GAPDH</text>
<text x="456.9" y="1321.95" font-size="27" font-weight="normal" text-anchor="middle" word-spacing="1.2">* $</text>
<text x="553" y="1328.45" font-size="27" font-weight="normal" text-anchor="middle">*$</text>
</g>
<g>
<line x1="970.4" y1="1306" x2="970.4" y2="1399.5" stroke="#000" stroke-width="3.4" stroke-linecap="butt"/>
<line x1="962.02" y1="1306" x2="978.78" y2="1306" stroke="#000" stroke-width="3.4" stroke-linecap="butt"/>
<rect x="937.7" y="1399.5" width="65.4" height="252.8" fill="#2f5aa7" stroke="#000" stroke-width="3.4"/>
<line x1="1073.85" y1="1595.5" x2="1073.85" y2="1601.5" stroke="#000" stroke-width="3.4" stroke-linecap="butt"/>
<line x1="1065.47" y1="1595.5" x2="1082.23" y2="1595.5" stroke="#000" stroke-width="3.4" stroke-linecap="butt"/>
<rect x="1041.15" y="1601.5" width="65.4" height="50.8" fill="#b8a074" stroke="#000" stroke-width="3.4"/>
<line x1="1177.3" y1="1466.5" x2="1177.3" y2="1511" stroke="#000" stroke-width="3.4" stroke-linecap="butt"/>
<line x1="1168.92" y1="1466.5" x2="1185.68" y2="1466.5" stroke="#000" stroke-width="3.4" stroke-linecap="butt"/>
<rect x="1144.6" y="1511" width="65.4" height="141.3" fill="#808080" stroke="#000" stroke-width="3.4"/>
<line x1="1280.75" y1="1354.5" x2="1280.75" y2="1408" stroke="#000" stroke-width="3.4" stroke-linecap="butt"/>
<line x1="1272.37" y1="1354.5" x2="1289.13" y2="1354.5" stroke="#000" stroke-width="3.4" stroke-linecap="butt"/>
<rect x="1248.05" y="1408" width="65.4" height="244.3" fill="#c47ea2" stroke="#000" stroke-width="3.4"/>
<line x1="1384.2" y1="1549" x2="1384.2" y2="1566" stroke="#000" stroke-width="3.4" stroke-linecap="butt"/>
<line x1="1375.82" y1="1549" x2="1392.58" y2="1549" stroke="#000" stroke-width="3.4" stroke-linecap="butt"/>
<rect x="1351.5" y="1566" width="65.4" height="86.3" fill="#d5d5d5" stroke="#000" stroke-width="3.4"/>
<line x1="886.39" y1="1652.3" x2="1455.1" y2="1652.3" stroke="#000" stroke-width="3.4" stroke-linecap="butt"/>
<line x1="901.1" y1="1282.9" x2="901.1" y2="1652.3" stroke="#000" stroke-width="3.4" stroke-linecap="butt"/>
<line x1="886.39" y1="1284.6" x2="902.8" y2="1284.6" stroke="#000" stroke-width="3.4" stroke-linecap="butt"/>
<text x="882.28" y="1294.03" font-size="28.01" font-weight="bold" text-anchor="end">0.06</text>
<line x1="886.39" y1="1407.17" x2="902.8" y2="1407.17" stroke="#000" stroke-width="3.4" stroke-linecap="butt"/>
<text x="882.28" y="1416.6" font-size="28.01" font-weight="bold" text-anchor="end">0.04</text>
<line x1="886.39" y1="1529.73" x2="902.8" y2="1529.73" stroke="#000" stroke-width="3.4" stroke-linecap="butt"/>
<text x="882.28" y="1539.16" font-size="28.01" font-weight="bold" text-anchor="end">0.02</text>
<text x="882.28" y="1661.73" font-size="28.01" font-weight="bold" text-anchor="end">0.00</text>
<line x1="970.4" y1="1652.3" x2="970.4" y2="1666.69" stroke="#000" stroke-width="3.4" stroke-linecap="butt"/>
<text x="970.4" y="1698.5" font-size="29.74" font-weight="bold" text-anchor="middle">RD</text>
<line x1="1073.85" y1="1652.3" x2="1073.85" y2="1666.69" stroke="#000" stroke-width="3.4" stroke-linecap="butt"/>
<text x="1073.85" y="1698.5" font-size="29.74" font-weight="bold" text-anchor="middle">RH18</text>
<line x1="1177.3" y1="1652.3" x2="1177.3" y2="1666.69" stroke="#000" stroke-width="3.4" stroke-linecap="butt"/>
<text x="1176.3" y="1698.5" font-size="29.74" font-weight="bold" text-anchor="middle">RH41</text>
<line x1="1280.75" y1="1652.3" x2="1280.75" y2="1666.69" stroke="#000" stroke-width="3.4" stroke-linecap="butt"/>
<text x="1280.75" y="1698.5" font-size="29.74" font-weight="bold" text-anchor="middle">RH30</text>
<text x="1280.75" y="1733" font-size="29.74" font-weight="bold" text-anchor="middle">PAX7<tspan font-size="19.63" dy="-15.61" dx="0.05">-</tspan></text>
<line x1="1384.2" y1="1652.3" x2="1384.2" y2="1666.69" stroke="#000" stroke-width="3.4" stroke-linecap="butt"/>
<text x="1384.2" y="1698.5" font-size="29.74" font-weight="bold" text-anchor="middle">RH30</text>
<text x="1384.2" y="1733" font-size="29.74" font-weight="bold" text-anchor="middle">PAX7<tspan font-size="19.63" dy="-15.61" dx="0.05">+</tspan></text>
<line x1="951" y1="1750" x2="1077.5" y2="1750" stroke="#000" stroke-width="2.6" stroke-linecap="butt"/>
<line x1="1165" y1="1750" x2="1397.5" y2="1750" stroke="#000" stroke-width="2.6" stroke-linecap="butt"/>
<text x="1013" y="1781.5" font-size="29.74" font-weight="bold" text-anchor="middle">ERMS</text>
<text x="1287" y="1780" font-size="29.74" font-weight="bold" text-anchor="middle">ARMS</text>
<text x="1175" y="1237" font-size="32.88" font-weight="bold" text-anchor="middle">SIX1</text>
<text transform="translate(816.15 1467.5) rotate(-90)" font-size="29.74" font-weight="bold" text-anchor="middle">SIX1 / GAPDH</text>
<text x="1278.5" y="1317.72" font-size="29.2" font-weight="normal" text-anchor="middle">$</text>
</g>
<g>
<line x1="1731.7" y1="1397" x2="1731.7" y2="1464.5" stroke="#000" stroke-width="3.4" stroke-linecap="butt"/>
<line x1="1723.32" y1="1397" x2="1740.08" y2="1397" stroke="#000" stroke-width="3.4" stroke-linecap="butt"/>
<rect x="1699" y="1464.5" width="65.4" height="188.3" fill="#2f5aa7" stroke="#000" stroke-width="3.4"/>
<line x1="1835.15" y1="1540" x2="1835.15" y2="1548.5" stroke="#000" stroke-width="3.4" stroke-linecap="butt"/>
<line x1="1826.77" y1="1540" x2="1843.53" y2="1540" stroke="#000" stroke-width="3.4" stroke-linecap="butt"/>
<rect x="1802.45" y="1548.5" width="65.4" height="104.3" fill="#b8a074" stroke="#000" stroke-width="3.4"/>
<line x1="1938.6" y1="1469.5" x2="1938.6" y2="1507.5" stroke="#000" stroke-width="3.4" stroke-linecap="butt"/>
<line x1="1930.22" y1="1469.5" x2="1946.98" y2="1469.5" stroke="#000" stroke-width="3.4" stroke-linecap="butt"/>
<rect x="1905.9" y="1507.5" width="65.4" height="145.3" fill="#808080" stroke="#000" stroke-width="3.4"/>
<line x1="2042.05" y1="1309" x2="2042.05" y2="1389.5" stroke="#000" stroke-width="3.4" stroke-linecap="butt"/>
<line x1="2033.67" y1="1309" x2="2050.43" y2="1309" stroke="#000" stroke-width="3.4" stroke-linecap="butt"/>
<rect x="2009.35" y="1389.5" width="65.4" height="263.3" fill="#c47ea2" stroke="#000" stroke-width="3.4"/>
<line x1="2145.5" y1="1419" x2="2145.5" y2="1473.5" stroke="#000" stroke-width="3.4" stroke-linecap="butt"/>
<line x1="2137.12" y1="1419" x2="2153.88" y2="1419" stroke="#000" stroke-width="3.4" stroke-linecap="butt"/>
<rect x="2112.8" y="1473.5" width="65.4" height="179.3" fill="#d5d5d5" stroke="#000" stroke-width="3.4"/>
<line x1="1648.09" y1="1652.8" x2="2215.4" y2="1652.8" stroke="#000" stroke-width="3.4" stroke-linecap="butt"/>
<line x1="1662.8" y1="1283.9" x2="1662.8" y2="1652.8" stroke="#000" stroke-width="3.4" stroke-linecap="butt"/>
<line x1="1648.09" y1="1285.6" x2="1664.5" y2="1285.6" stroke="#000" stroke-width="3.4" stroke-linecap="butt"/>
<text x="1643.98" y="1295.03" font-size="28.01" font-weight="bold" text-anchor="end">0.05</text>
<line x1="1648.09" y1="1359.04" x2="1664.5" y2="1359.04" stroke="#000" stroke-width="3.4" stroke-linecap="butt"/>
<text x="1643.98" y="1368.47" font-size="28.01" font-weight="bold" text-anchor="end">0.04</text>
<line x1="1648.09" y1="1432.48" x2="1664.5" y2="1432.48" stroke="#000" stroke-width="3.4" stroke-linecap="butt"/>
<text x="1643.98" y="1441.91" font-size="28.01" font-weight="bold" text-anchor="end">0.03</text>
<line x1="1648.09" y1="1505.92" x2="1664.5" y2="1505.92" stroke="#000" stroke-width="3.4" stroke-linecap="butt"/>
<text x="1643.98" y="1515.35" font-size="28.01" font-weight="bold" text-anchor="end">0.02</text>
<line x1="1648.09" y1="1579.36" x2="1664.5" y2="1579.36" stroke="#000" stroke-width="3.4" stroke-linecap="butt"/>
<text x="1643.98" y="1588.79" font-size="28.01" font-weight="bold" text-anchor="end">0.01</text>
<text x="1643.98" y="1662.23" font-size="28.01" font-weight="bold" text-anchor="end">0.00</text>
<line x1="1731.7" y1="1652.8" x2="1731.7" y2="1667.19" stroke="#000" stroke-width="3.4" stroke-linecap="butt"/>
<text x="1731.7" y="1698.7" font-size="29.74" font-weight="bold" text-anchor="middle">RD</text>
<line x1="1835.15" y1="1652.8" x2="1835.15" y2="1667.19" stroke="#000" stroke-width="3.4" stroke-linecap="butt"/>
<text x="1835.15" y="1698.7" font-size="29.74" font-weight="bold" text-anchor="middle">RH18</text>
<line x1="1938.6" y1="1652.8" x2="1938.6" y2="1667.19" stroke="#000" stroke-width="3.4" stroke-linecap="butt"/>
<text x="1937.6" y="1698.7" font-size="29.74" font-weight="bold" text-anchor="middle">RH41</text>
<line x1="2042.05" y1="1652.8" x2="2042.05" y2="1667.19" stroke="#000" stroke-width="3.4" stroke-linecap="butt"/>
<text x="2042.05" y="1698.7" font-size="29.74" font-weight="bold" text-anchor="middle">RH30</text>
<text x="2042.05" y="1734.5" font-size="29.74" font-weight="bold" text-anchor="middle">PAX7<tspan font-size="19.63" dy="-15.61" dx="0.05">-</tspan></text>
<line x1="2145.5" y1="1652.8" x2="2145.5" y2="1667.19" stroke="#000" stroke-width="3.4" stroke-linecap="butt"/>
<text x="2145.5" y="1698.7" font-size="29.74" font-weight="bold" text-anchor="middle">RH30</text>
<text x="2145.5" y="1734.5" font-size="29.74" font-weight="bold" text-anchor="middle">PAX7<tspan font-size="19.63" dy="-15.61" dx="0.05">+</tspan></text>
<line x1="1721.5" y1="1751" x2="1840" y2="1751" stroke="#000" stroke-width="2.6" stroke-linecap="butt"/>
<line x1="1930" y1="1751" x2="2155.5" y2="1751" stroke="#000" stroke-width="2.6" stroke-linecap="butt"/>
<text x="1780" y="1787.5" font-size="29.74" font-weight="bold" text-anchor="middle">ERMS</text>
<text x="2038" y="1787.5" font-size="29.74" font-weight="bold" text-anchor="middle">ARMS</text>
<text x="1937.5" y="1238" font-size="32.88" font-weight="bold" text-anchor="middle">SIX4</text>
<text transform="translate(1577.65 1467.5) rotate(-90)" font-size="29.74" font-weight="bold" text-anchor="middle">SIX4 / GAPDH</text>
</g>
<g>
<line x1="700.2" y1="2050.3" x2="700.2" y2="2096.7" stroke="#000" stroke-width="3.3" stroke-linecap="butt"/>
<line x1="692.45" y1="2050.3" x2="707.95" y2="2050.3" stroke="#000" stroke-width="3.3" stroke-linecap="butt"/>
<rect x="670.1" y="2096.7" width="60.2" height="151.5" fill="#2f5aa7" stroke="#000" stroke-width="3.3"/>
<line x1="795.85" y1="2194.3" x2="795.85" y2="2202.7" stroke="#000" stroke-width="3.3" stroke-linecap="butt"/>
<line x1="788.1" y1="2194.3" x2="803.6" y2="2194.3" stroke="#000" stroke-width="3.3" stroke-linecap="butt"/>
<rect x="765.75" y="2202.7" width="60.2" height="45.5" fill="#b8a074" stroke="#000" stroke-width="3.3"/>
<line x1="891.5" y1="2219.3" x2="891.5" y2="2225.2" stroke="#000" stroke-width="3.3" stroke-linecap="butt"/>
<line x1="883.75" y1="2219.3" x2="899.25" y2="2219.3" stroke="#000" stroke-width="3.3" stroke-linecap="butt"/>
<rect x="861.4" y="2225.2" width="60.2" height="23" fill="#808080" stroke="#000" stroke-width="3.3"/>
<line x1="987.15" y1="2180.8" x2="987.15" y2="2197.2" stroke="#000" stroke-width="3.3" stroke-linecap="butt"/>
<line x1="979.4" y1="2180.8" x2="994.9" y2="2180.8" stroke="#000" stroke-width="3.3" stroke-linecap="butt"/>
<rect x="957.05" y="2197.2" width="60.2" height="51" fill="#c47ea2" stroke="#000" stroke-width="3.3"/>
<line x1="1082.8" y1="1947.8" x2="1082.8" y2="1995.7" stroke="#000" stroke-width="3.3" stroke-linecap="butt"/>
<line x1="1075.05" y1="1947.8" x2="1090.55" y2="1947.8" stroke="#000" stroke-width="3.3" stroke-linecap="butt"/>
<rect x="1052.7" y="1995.7" width="60.2" height="252.5" fill="#d5d5d5" stroke="#000" stroke-width="3.3"/>
<line x1="622.4" y1="2248.2" x2="1148.6" y2="2248.2" stroke="#000" stroke-width="3.3" stroke-linecap="butt"/>
<line x1="636.4" y1="1905.75" x2="636.4" y2="2248.2" stroke="#000" stroke-width="3.3" stroke-linecap="butt"/>
<line x1="622.4" y1="1907.4" x2="638.05" y2="1907.4" stroke="#000" stroke-width="3.3" stroke-linecap="butt"/>
<text x="618.4" y="1916.44" font-size="26.1" font-weight="bold" text-anchor="end">0.10</text>
<line x1="622.4" y1="1975.56" x2="638.05" y2="1975.56" stroke="#000" stroke-width="3.3" stroke-linecap="butt"/>
<text x="618.4" y="1984.6" font-size="26.1" font-weight="bold" text-anchor="end">0.08</text>
<line x1="622.4" y1="2043.72" x2="638.05" y2="2043.72" stroke="#000" stroke-width="3.3" stroke-linecap="butt"/>
<text x="618.4" y="2052.76" font-size="26.1" font-weight="bold" text-anchor="end">0.06</text>
<line x1="622.4" y1="2111.88" x2="638.05" y2="2111.88" stroke="#000" stroke-width="3.3" stroke-linecap="butt"/>
<text x="618.4" y="2120.92" font-size="26.1" font-weight="bold" text-anchor="end">0.04</text>
<line x1="622.4" y1="2180.04" x2="638.05" y2="2180.04" stroke="#000" stroke-width="3.3" stroke-linecap="butt"/>
<text x="618.4" y="2189.08" font-size="26.1" font-weight="bold" text-anchor="end">0.02</text>
<text x="618.4" y="2257.24" font-size="26.1" font-weight="bold" text-anchor="end">0.00</text>
<line x1="700.2" y1="2248.2" x2="700.2" y2="2261.9" stroke="#000" stroke-width="3.3" stroke-linecap="butt"/>
<text x="700.2" y="2290.5" font-size="27.5" font-weight="bold" text-anchor="middle">RD</text>
<line x1="795.85" y1="2248.2" x2="795.85" y2="2261.9" stroke="#000" stroke-width="3.3" stroke-linecap="butt"/>
<text x="795.85" y="2290.5" font-size="27.5" font-weight="bold" text-anchor="middle">RH18</text>
<line x1="891.5" y1="2248.2" x2="891.5" y2="2261.9" stroke="#000" stroke-width="3.3" stroke-linecap="butt"/>
<text x="890.5" y="2290.5" font-size="27.5" font-weight="bold" text-anchor="middle">RH41</text>
<line x1="987.15" y1="2248.2" x2="987.15" y2="2261.9" stroke="#000" stroke-width="3.3" stroke-linecap="butt"/>
<text x="987.15" y="2290.5" font-size="27.5" font-weight="bold" text-anchor="middle">RH30</text>
<text x="987.15" y="2323" font-size="27.5" font-weight="bold" text-anchor="middle">PAX7<tspan font-size="18.15" dy="-14.71" dx="0.6">-</tspan></text>
<line x1="1082.8" y1="2248.2" x2="1082.8" y2="2261.9" stroke="#000" stroke-width="3.3" stroke-linecap="butt"/>
<text x="1082.8" y="2290.5" font-size="27.5" font-weight="bold" text-anchor="middle">RH30</text>
<text x="1082.8" y="2323" font-size="27.5" font-weight="bold" text-anchor="middle">PAX7<tspan font-size="18.15" dy="-14.71" dx="0.6">+</tspan></text>
<line x1="664" y1="2341" x2="817.5" y2="2341" stroke="#000" stroke-width="4.8" stroke-linecap="butt"/>
<line x1="856" y1="2341" x2="1113" y2="2341" stroke="#000" stroke-width="4.8" stroke-linecap="butt"/>
<text x="739.2" y="2374" font-size="27.5" font-weight="bold" text-anchor="middle">ERMS</text>
<text x="980" y="2376.8" font-size="27.5" font-weight="bold" text-anchor="middle">ARMS</text>
<text x="890" y="1863" font-size="32.5" font-weight="bold" text-anchor="middle">ID1</text>
<text transform="translate(556.85 2077.5) rotate(-90)" font-size="27.5" font-weight="bold" text-anchor="middle">ID1 / GAPDH</text>
<text x="1082" y="1916.45" font-size="27" font-weight="normal" text-anchor="middle">$</text>
</g>
<g>
<line x1="1442.9" y1="2129.3" x2="1442.9" y2="2159.7" stroke="#000" stroke-width="3.3" stroke-linecap="butt"/>
<line x1="1435.15" y1="2129.3" x2="1450.65" y2="2129.3" stroke="#000" stroke-width="3.3" stroke-linecap="butt"/>
<rect x="1412.8" y="2159.7" width="60.2" height="82.5" fill="#2f5aa7" stroke="#000" stroke-width="3.3"/>
<line x1="1538.55" y1="2124.3" x2="1538.55" y2="2131.2" stroke="#000" stroke-width="3.3" stroke-linecap="butt"/>
<line x1="1530.8" y1="2124.3" x2="1546.3" y2="2124.3" stroke="#000" stroke-width="3.3" stroke-linecap="butt"/>
<rect x="1508.45" y="2131.2" width="60.2" height="111" fill="#b8a074" stroke="#000" stroke-width="3.3"/>
<line x1="1634.2" y1="2220.3" x2="1634.2" y2="2225.2" stroke="#000" stroke-width="3.3" stroke-linecap="butt"/>
<line x1="1626.45" y1="2220.3" x2="1641.95" y2="2220.3" stroke="#000" stroke-width="3.3" stroke-linecap="butt"/>
<rect x="1604.1" y="2225.2" width="60.2" height="17" fill="#808080" stroke="#000" stroke-width="3.3"/>
<line x1="1729.85" y1="2161.8" x2="1729.85" y2="2182.2" stroke="#000" stroke-width="3.3" stroke-linecap="butt"/>
<line x1="1722.1" y1="2161.8" x2="1737.6" y2="2161.8" stroke="#000" stroke-width="3.3" stroke-linecap="butt"/>
<rect x="1699.75" y="2182.2" width="60.2" height="60" fill="#c47ea2" stroke="#000" stroke-width="3.3"/>
<line x1="1825.5" y1="1957.8" x2="1825.5" y2="2003.2" stroke="#000" stroke-width="3.3" stroke-linecap="butt"/>
<line x1="1817.75" y1="1957.8" x2="1833.25" y2="1957.8" stroke="#000" stroke-width="3.3" stroke-linecap="butt"/>
<rect x="1795.4" y="2003.2" width="60.2" height="239" fill="#d5d5d5" stroke="#000" stroke-width="3.3"/>
<line x1="1365.2" y1="2242.2" x2="1891.4" y2="2242.2" stroke="#000" stroke-width="3.3" stroke-linecap="butt"/>
<line x1="1379.2" y1="1900.25" x2="1379.2" y2="2242.2" stroke="#000" stroke-width="3.3" stroke-linecap="butt"/>
<line x1="1365.2" y1="1901.9" x2="1380.85" y2="1901.9" stroke="#000" stroke-width="3.3" stroke-linecap="butt"/>
<text x="1361.2" y="1910.94" font-size="26.1" font-weight="bold" text-anchor="end">0.020</text>
<line x1="1365.2" y1="1986.97" x2="1380.85" y2="1986.97" stroke="#000" stroke-width="3.3" stroke-linecap="butt"/>
<text x="1361.2" y="1996.02" font-size="26.1" font-weight="bold" text-anchor="end">0.015</text>
<line x1="1365.2" y1="2072.05" x2="1380.85" y2="2072.05" stroke="#000" stroke-width="3.3" stroke-linecap="butt"/>
<text x="1361.2" y="2081.09" font-size="26.1" font-weight="bold" text-anchor="end">0.010</text>
<line x1="1365.2" y1="2157.12" x2="1380.85" y2="2157.12" stroke="#000" stroke-width="3.3" stroke-linecap="butt"/>
<text x="1361.2" y="2166.17" font-size="26.1" font-weight="bold" text-anchor="end">0.005</text>
<text x="1361.2" y="2251.24" font-size="26.1" font-weight="bold" text-anchor="end">0.000</text>
<line x1="1442.9" y1="2242.2" x2="1442.9" y2="2255.9" stroke="#000" stroke-width="3.3" stroke-linecap="butt"/>
<text x="1442.9" y="2285" font-size="27.5" font-weight="bold" text-anchor="middle">RD</text>
<line x1="1538.55" y1="2242.2" x2="1538.55" y2="2255.9" stroke="#000" stroke-width="3.3" stroke-linecap="butt"/>
<text x="1538.55" y="2285" font-size="27.5" font-weight="bold" text-anchor="middle">RH18</text>
<line x1="1634.2" y1="2242.2" x2="1634.2" y2="2255.9" stroke="#000" stroke-width="3.3" stroke-linecap="butt"/>
<text x="1633.2" y="2285" font-size="27.5" font-weight="bold" text-anchor="middle">RH41</text>
<line x1="1729.85" y1="2242.2" x2="1729.85" y2="2255.9" stroke="#000" stroke-width="3.3" stroke-linecap="butt"/>
<text x="1729.85" y="2285" font-size="27.5" font-weight="bold" text-anchor="middle">RH30</text>
<text x="1729.85" y="2317.5" font-size="27.5" font-weight="bold" text-anchor="middle">PAX7<tspan font-size="18.15" dy="-14.71" dx="0.6">-</tspan></text>
<line x1="1825.5" y1="2242.2" x2="1825.5" y2="2255.9" stroke="#000" stroke-width="3.3" stroke-linecap="butt"/>
<text x="1825.5" y="2285" font-size="27.5" font-weight="bold" text-anchor="middle">RH30</text>
<text x="1825.5" y="2317.5" font-size="27.5" font-weight="bold" text-anchor="middle">PAX7<tspan font-size="18.15" dy="-14.71" dx="0.6">+</tspan></text>
<line x1="1406.5" y1="2336" x2="1560" y2="2336" stroke="#000" stroke-width="4.8" stroke-linecap="butt"/>
<line x1="1598.5" y1="2336" x2="1855.5" y2="2336" stroke="#000" stroke-width="4.8" stroke-linecap="butt"/>
<text x="1483" y="2368" font-size="27.5" font-weight="bold" text-anchor="middle">ERMS</text>
<text x="1731.5" y="2368" font-size="27.5" font-weight="bold" text-anchor="middle">ARMS</text>
<text x="1634" y="1858" font-size="32.5" font-weight="bold" text-anchor="middle">ID2</text>
<text transform="translate(1284.85 2072.5) rotate(-90)" font-size="27.5" font-weight="bold" text-anchor="middle">ID2 / GAPDH</text>
<text x="1827.4" y="1932.95" font-size="27" font-weight="normal" text-anchor="middle" word-spacing="1.2">* $</text>
</g>
<g>
<line x1="693.5" y1="2729.3" x2="693.5" y2="2746.2" stroke="#000" stroke-width="3.3" stroke-linecap="butt"/>
<line x1="685.75" y1="2729.3" x2="701.25" y2="2729.3" stroke="#000" stroke-width="3.3" stroke-linecap="butt"/>
<rect x="663.4" y="2746.2" width="60.2" height="66.9" fill="#2f5aa7" stroke="#000" stroke-width="3.3"/>
<line x1="789.15" y1="2786.3" x2="789.15" y2="2790.7" stroke="#000" stroke-width="3.3" stroke-linecap="butt"/>
<line x1="781.4" y1="2786.3" x2="796.9" y2="2786.3" stroke="#000" stroke-width="3.3" stroke-linecap="butt"/>
<rect x="759.05" y="2790.7" width="60.2" height="22.4" fill="#b8a074" stroke="#000" stroke-width="3.3"/>
<line x1="884.8" y1="2775.8" x2="884.8" y2="2783.7" stroke="#000" stroke-width="3.3" stroke-linecap="butt"/>
<line x1="877.05" y1="2775.8" x2="892.55" y2="2775.8" stroke="#000" stroke-width="3.3" stroke-linecap="butt"/>
<rect x="854.7" y="2783.7" width="60.2" height="29.4" fill="#808080" stroke="#000" stroke-width="3.3"/>
<line x1="980.45" y1="2702.3" x2="980.45" y2="2717.7" stroke="#000" stroke-width="3.3" stroke-linecap="butt"/>
<line x1="972.7" y1="2702.3" x2="988.2" y2="2702.3" stroke="#000" stroke-width="3.3" stroke-linecap="butt"/>
<rect x="950.35" y="2717.7" width="60.2" height="95.4" fill="#c47ea2" stroke="#000" stroke-width="3.3"/>
<line x1="1076.1" y1="2521.3" x2="1076.1" y2="2551.7" stroke="#000" stroke-width="3.3" stroke-linecap="butt"/>
<line x1="1068.35" y1="2521.3" x2="1083.85" y2="2521.3" stroke="#000" stroke-width="3.3" stroke-linecap="butt"/>
<rect x="1046" y="2551.7" width="60.2" height="261.4" fill="#d5d5d5" stroke="#000" stroke-width="3.3"/>
<line x1="615.7" y1="2813.1" x2="1141.9" y2="2813.1" stroke="#000" stroke-width="3.3" stroke-linecap="butt"/>
<line x1="629.7" y1="2471.15" x2="629.7" y2="2813.1" stroke="#000" stroke-width="3.3" stroke-linecap="butt"/>
<line x1="615.7" y1="2472.8" x2="631.35" y2="2472.8" stroke="#000" stroke-width="3.3" stroke-linecap="butt"/>
<text x="611.7" y="2481.84" font-size="26.1" font-weight="bold" text-anchor="end">0.20</text>
<line x1="615.7" y1="2557.88" x2="631.35" y2="2557.88" stroke="#000" stroke-width="3.3" stroke-linecap="butt"/>
<text x="611.7" y="2566.92" font-size="26.1" font-weight="bold" text-anchor="end">0.15</text>
<line x1="615.7" y1="2642.95" x2="631.35" y2="2642.95" stroke="#000" stroke-width="3.3" stroke-linecap="butt"/>
<text x="611.7" y="2651.99" font-size="26.1" font-weight="bold" text-anchor="end">0.10</text>
<line x1="615.7" y1="2728.03" x2="631.35" y2="2728.03" stroke="#000" stroke-width="3.3" stroke-linecap="butt"/>
<text x="611.7" y="2737.07" font-size="26.1" font-weight="bold" text-anchor="end">0.05</text>
<text x="611.7" y="2822.14" font-size="26.1" font-weight="bold" text-anchor="end">0.00</text>
<line x1="693.5" y1="2813.1" x2="693.5" y2="2826.8" stroke="#000" stroke-width="3.3" stroke-linecap="butt"/>
<text x="693.5" y="2855.5" font-size="27.5" font-weight="bold" text-anchor="middle">RD</text>
<line x1="789.15" y1="2813.1" x2="789.15" y2="2826.8" stroke="#000" stroke-width="3.3" stroke-linecap="butt"/>
<text x="789.15" y="2855.5" font-size="27.5" font-weight="bold" text-anchor="middle">RH18</text>
<line x1="884.8" y1="2813.1" x2="884.8" y2="2826.8" stroke="#000" stroke-width="3.3" stroke-linecap="butt"/>
<text x="883.8" y="2855.5" font-size="27.5" font-weight="bold" text-anchor="middle">RH41</text>
<line x1="980.45" y1="2813.1" x2="980.45" y2="2826.8" stroke="#000" stroke-width="3.3" stroke-linecap="butt"/>
<text x="980.45" y="2855.5" font-size="27.5" font-weight="bold" text-anchor="middle">RH30</text>
<text x="980.45" y="2888.5" font-size="27.5" font-weight="bold" text-anchor="middle">PAX7<tspan font-size="18.15" dy="-14.71" dx="0.6">-</tspan></text>
<line x1="1076.1" y1="2813.1" x2="1076.1" y2="2826.8" stroke="#000" stroke-width="3.3" stroke-linecap="butt"/>
<text x="1076.1" y="2855.5" font-size="27.5" font-weight="bold" text-anchor="middle">RH30</text>
<text x="1076.1" y="2888.5" font-size="27.5" font-weight="bold" text-anchor="middle">PAX7<tspan font-size="18.15" dy="-14.71" dx="0.6">+</tspan></text>
<line x1="657.5" y1="2906.5" x2="810.5" y2="2906.5" stroke="#000" stroke-width="4.8" stroke-linecap="butt"/>
<line x1="849" y1="2906.5" x2="1106" y2="2906.5" stroke="#000" stroke-width="4.8" stroke-linecap="butt"/>
<text x="733.5" y="2939" font-size="27.5" font-weight="bold" text-anchor="middle">ERMS</text>
<text x="982" y="2939" font-size="27.5" font-weight="bold" text-anchor="middle">ARMS</text>
<text x="884" y="2428.5" font-size="32.5" font-weight="bold" text-anchor="middle">ID3</text>
<text transform="translate(550.85 2643) rotate(-90)" font-size="27.5" font-weight="bold" text-anchor="middle">ID3 / GAPDH</text>
<text x="979.5" y="2677.45" font-size="27" font-weight="normal" text-anchor="middle">$</text>
<text x="1074.4" y="2496.95" font-size="27" font-weight="normal" text-anchor="middle" word-spacing="1.2">* $</text>
</g>
<g>
<line x1="1442.9" y1="2755.3" x2="1442.9" y2="2779.2" stroke="#000" stroke-width="3.3" stroke-linecap="butt"/>
<line x1="1435.15" y1="2755.3" x2="1450.65" y2="2755.3" stroke="#000" stroke-width="3.3" stroke-linecap="butt"/>
<rect x="1412.8" y="2779.2" width="60.2" height="33.7" fill="#2f5aa7" stroke="#000" stroke-width="3.3"/>
<line x1="1538.55" y1="2562.8" x2="1538.55" y2="2621.2" stroke="#000" stroke-width="3.3" stroke-linecap="butt"/>
<line x1="1530.8" y1="2562.8" x2="1546.3" y2="2562.8" stroke="#000" stroke-width="3.3" stroke-linecap="butt"/>
<rect x="1508.45" y="2621.2" width="60.2" height="191.7" fill="#b8a074" stroke="#000" stroke-width="3.3"/>
<line x1="1634.2" y1="2799.8" x2="1634.2" y2="2806.2" stroke="#000" stroke-width="3.3" stroke-linecap="butt"/>
<line x1="1626.45" y1="2799.8" x2="1641.95" y2="2799.8" stroke="#000" stroke-width="3.3" stroke-linecap="butt"/>
<rect x="1604.1" y="2806.2" width="60.2" height="6.7" fill="#808080" stroke="#000" stroke-width="3.3"/>
<line x1="1729.85" y1="2762.8" x2="1729.85" y2="2774.7" stroke="#000" stroke-width="3.3" stroke-linecap="butt"/>
<line x1="1722.1" y1="2762.8" x2="1737.6" y2="2762.8" stroke="#000" stroke-width="3.3" stroke-linecap="butt"/>
<rect x="1699.75" y="2774.7" width="60.2" height="38.2" fill="#c47ea2" stroke="#000" stroke-width="3.3"/>
<line x1="1825.5" y1="2496.8" x2="1825.5" y2="2558.7" stroke="#000" stroke-width="3.3" stroke-linecap="butt"/>
<line x1="1817.75" y1="2496.8" x2="1833.25" y2="2496.8" stroke="#000" stroke-width="3.3" stroke-linecap="butt"/>
<rect x="1795.4" y="2558.7" width="60.2" height="254.2" fill="#d5d5d5" stroke="#000" stroke-width="3.3"/>
<line x1="1365.2" y1="2812.9" x2="1891.4" y2="2812.9" stroke="#000" stroke-width="3.3" stroke-linecap="butt"/>
<line x1="1379.2" y1="2470.95" x2="1379.2" y2="2812.9" stroke="#000" stroke-width="3.3" stroke-linecap="butt"/>
<line x1="1365.2" y1="2472.6" x2="1380.85" y2="2472.6" stroke="#000" stroke-width="3.3" stroke-linecap="butt"/>
<text x="1361.2" y="2481.64" font-size="26.1" font-weight="bold" text-anchor="end">0.0025</text>
<line x1="1365.2" y1="2540.66" x2="1380.85" y2="2540.66" stroke="#000" stroke-width="3.3" stroke-linecap="butt"/>
<text x="1361.2" y="2549.7" font-size="26.1" font-weight="bold" text-anchor="end">0.0020</text>
<line x1="1365.2" y1="2608.72" x2="1380.85" y2="2608.72" stroke="#000" stroke-width="3.3" stroke-linecap="butt"/>
<text x="1361.2" y="2617.76" font-size="26.1" font-weight="bold" text-anchor="end">0.0015</text>
<line x1="1365.2" y1="2676.78" x2="1380.85" y2="2676.78" stroke="#000" stroke-width="3.3" stroke-linecap="butt"/>
<text x="1361.2" y="2685.82" font-size="26.1" font-weight="bold" text-anchor="end">0.0010</text>
<line x1="1365.2" y1="2744.84" x2="1380.85" y2="2744.84" stroke="#000" stroke-width="3.3" stroke-linecap="butt"/>
<text x="1361.2" y="2753.88" font-size="26.1" font-weight="bold" text-anchor="end">0.0005</text>
<text x="1361.2" y="2821.94" font-size="26.1" font-weight="bold" text-anchor="end">0.0000</text>
<line x1="1442.9" y1="2812.9" x2="1442.9" y2="2826.6" stroke="#000" stroke-width="3.3" stroke-linecap="butt"/>
<text x="1442.9" y="2855.5" font-size="27.5" font-weight="bold" text-anchor="middle">RD</text>
<line x1="1538.55" y1="2812.9" x2="1538.55" y2="2826.6" stroke="#000" stroke-width="3.3" stroke-linecap="butt"/>
<text x="1538.55" y="2855.5" font-size="27.5" font-weight="bold" text-anchor="middle">RH18</text>
<line x1="1634.2" y1="2812.9" x2="1634.2" y2="2826.6" stroke="#000" stroke-width="3.3" stroke-linecap="butt"/>
<text x="1633.2" y="2855.5" font-size="27.5" font-weight="bold" text-anchor="middle">RH41</text>
<line x1="1729.85" y1="2812.9" x2="1729.85" y2="2826.6" stroke="#000" stroke-width="3.3" stroke-linecap="butt"/>
<text x="1729.85" y="2855.5" font-size="27.5" font-weight="bold" text-anchor="middle">RH30</text>
<text x="1729.85" y="2888.5" font-size="27.5" font-weight="bold" text-anchor="middle">PAX7<tspan font-size="18.15" dy="-14.71" dx="0.6">-</tspan></text>
<line x1="1825.5" y1="2812.9" x2="1825.5" y2="2826.6" stroke="#000" stroke-width="3.3" stroke-linecap="butt"/>
<text x="1825.5" y="2855.5" font-size="27.5" font-weight="bold" text-anchor="middle">RH30</text>
<text x="1825.5" y="2888.5" font-size="27.5" font-weight="bold" text-anchor="middle">PAX7<tspan font-size="18.15" dy="-14.71" dx="0.6">+</tspan></text>
<line x1="1406.5" y1="2906.5" x2="1560" y2="2906.5" stroke="#000" stroke-width="4.8" stroke-linecap="butt"/>
<line x1="1598.5" y1="2906.5" x2="1855.5" y2="2906.5" stroke="#000" stroke-width="4.8" stroke-linecap="butt"/>
<text x="1483" y="2939" font-size="27.5" font-weight="bold" text-anchor="middle">ERMS</text>
<text x="1731.5" y="2939" font-size="27.5" font-weight="bold" text-anchor="middle">ARMS</text>
<text x="1634" y="2428.5" font-size="32.5" font-weight="bold" text-anchor="middle">ID4</text>
<text transform="translate(1273.35 2643) rotate(-90)" font-size="27.5" font-weight="bold" text-anchor="middle">ID4 / GAPDH</text>
<text x="1728.5" y="2736.95" font-size="27" font-weight="normal" text-anchor="middle">$</text>
<text x="1824.5" y="2480.45" font-size="27" font-weight="normal" text-anchor="middle">*</text>
</g>
</svg>
</body>
</html>
